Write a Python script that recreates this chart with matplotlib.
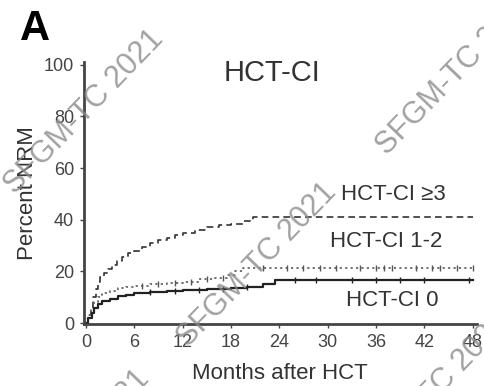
import numpy as np
from matplotlib import pyplot as plt

plt.rcParams["font.family"] = ["Liberation Sans", "DejaVu Sans"]

# cumulative incidence of NRM by HCT-CI group (months, percent)
t_hi = [0, 0.3, 0.6, 0.9, 1.2, 1.5, 1.8, 2.2, 2.7, 3.2, 3.8, 4.5, 5.2, 6.0, 7.0,
        8.0, 9.0, 10.0, 11.0, 12.0, 13.5, 15.0, 16.5, 18.0, 19.5, 20.7, 48]
y_hi = [0, 3, 6, 10, 13, 16, 18, 19.5, 21, 22.5, 24, 25.5, 27, 28, 29.5,
        31, 32, 33, 34, 35, 36, 37, 38, 38.5, 39.5, 41, 41]

t_mid = [0, 0.3, 0.6, 1.0, 1.5, 2.0, 3.0, 4.0, 5.0, 6.0, 8.0, 10.0, 12.0,
         14.0, 16.0, 17.5, 18.5, 19.5, 48]
y_mid = [0, 3, 5, 8, 10, 11.5, 12.5, 13.5, 14, 14.5, 15, 15.5, 16,
         17, 17.5, 18.5, 20, 21.5, 21.5]
cens_mid = [7, 9, 11, 13, 15, 17, 22, 25, 27, 29, 31, 34, 36, 37, 38, 41, 43, 44, 46, 48]

t_lo = [0, 0.3, 0.7, 1.0, 1.5, 2.0, 3.0, 4.0, 5.0, 6.0, 8.0, 10.0, 12.0,
        15.0, 18.0, 20.0, 22.0, 23.5, 48]
y_lo = [0, 2, 4, 6, 7.5, 8.5, 9.5, 10.5, 11, 11.5, 12, 12.5, 12.8,
        13, 13.5, 14, 15, 16.5, 16.5]
cens_lo = [8, 11, 14, 17, 20, 26, 28.5, 33, 36, 39, 42, 47.5]

x_ticks = [0, 6, 12, 18, 24, 30, 36, 42, 48]
y_ticks = [0, 20, 40, 60, 80, 100]


def step_value(times, values, t):
    i = np.searchsorted(times, t, side="right") - 1
    return np.asarray(values)[i]


fig = plt.figure(figsize=(4.85, 3.86), dpi=100)
ax = fig.add_axes([0.173, 0.161, 0.81, 0.678])

ax.plot(t_hi, y_hi, drawstyle="steps-post", color="#333333", lw=1.2, ls=(0, (4, 2.5)))
ax.plot(t_mid, y_mid, drawstyle="steps-post", color="#666666", lw=1.3, ls=(0, (1.2, 1.8)))
ax.plot(t_lo, y_lo, drawstyle="steps-post", color="#222222", lw=1.6)
ax.plot(cens_mid, step_value(t_mid, y_mid, cens_mid), ls="none", marker="|",
        ms=4, mew=1, color="#555555")
ax.plot(cens_lo, step_value(t_lo, y_lo, cens_lo), ls="none", marker="|",
        ms=4, mew=1, color="#222222")

ax.text(38.1, 49.6, "HCT-CI \u22653", fontsize=16, ha="center", va="center", color="#333333")
ax.text(37.3, 31.4, "HCT-CI 1-2", fontsize=16, ha="center", va="center", color="#333333")
ax.text(38.0, 8.9, "HCT-CI 0", fontsize=16, ha="center", va="center", color="#333333")
ax.text(0.48, 0.96, "HCT-CI", fontsize=21, ha="center", va="center",
        transform=ax.transAxes, color="#333333")

ax.set_xlim(-0.25, 48.5)
ax.set_ylim(-0.3, 101)
ax.set_xticks(x_ticks)
ax.set_yticks(y_ticks)
ax.tick_params(labelsize=13, length=3, width=1, colors="#444444", pad=4)
ax.set_xlabel("Months after HCT", fontsize=16, color="#333333", labelpad=9)
ax.set_ylabel("Percent NRM", fontsize=16, color="#333333", labelpad=4)
for side in ["top", "right"]:
    ax.spines[side].set_visible(False)
for side in ["left", "bottom"]:
    ax.spines[side].set_linewidth(2)
    ax.spines[side].set_color("#444444")

fig.text(0.072, 0.925, "A", fontsize=30, fontweight="bold", ha="center", va="center")

# watermark
for x, y in [(0.173, 0.71), (0.94, 0.81), (0.53, 0.313), (0.144, -0.17), (0.887, -0.023)]:
    fig.text(x, y, "SFGM-TC 2021", fontsize=22, rotation=46, rotation_mode="anchor",
             ha="center", va="center", color="#8a8a8a", alpha=0.8, fontweight="light")

fig.savefig("out.png", dpi=100)
